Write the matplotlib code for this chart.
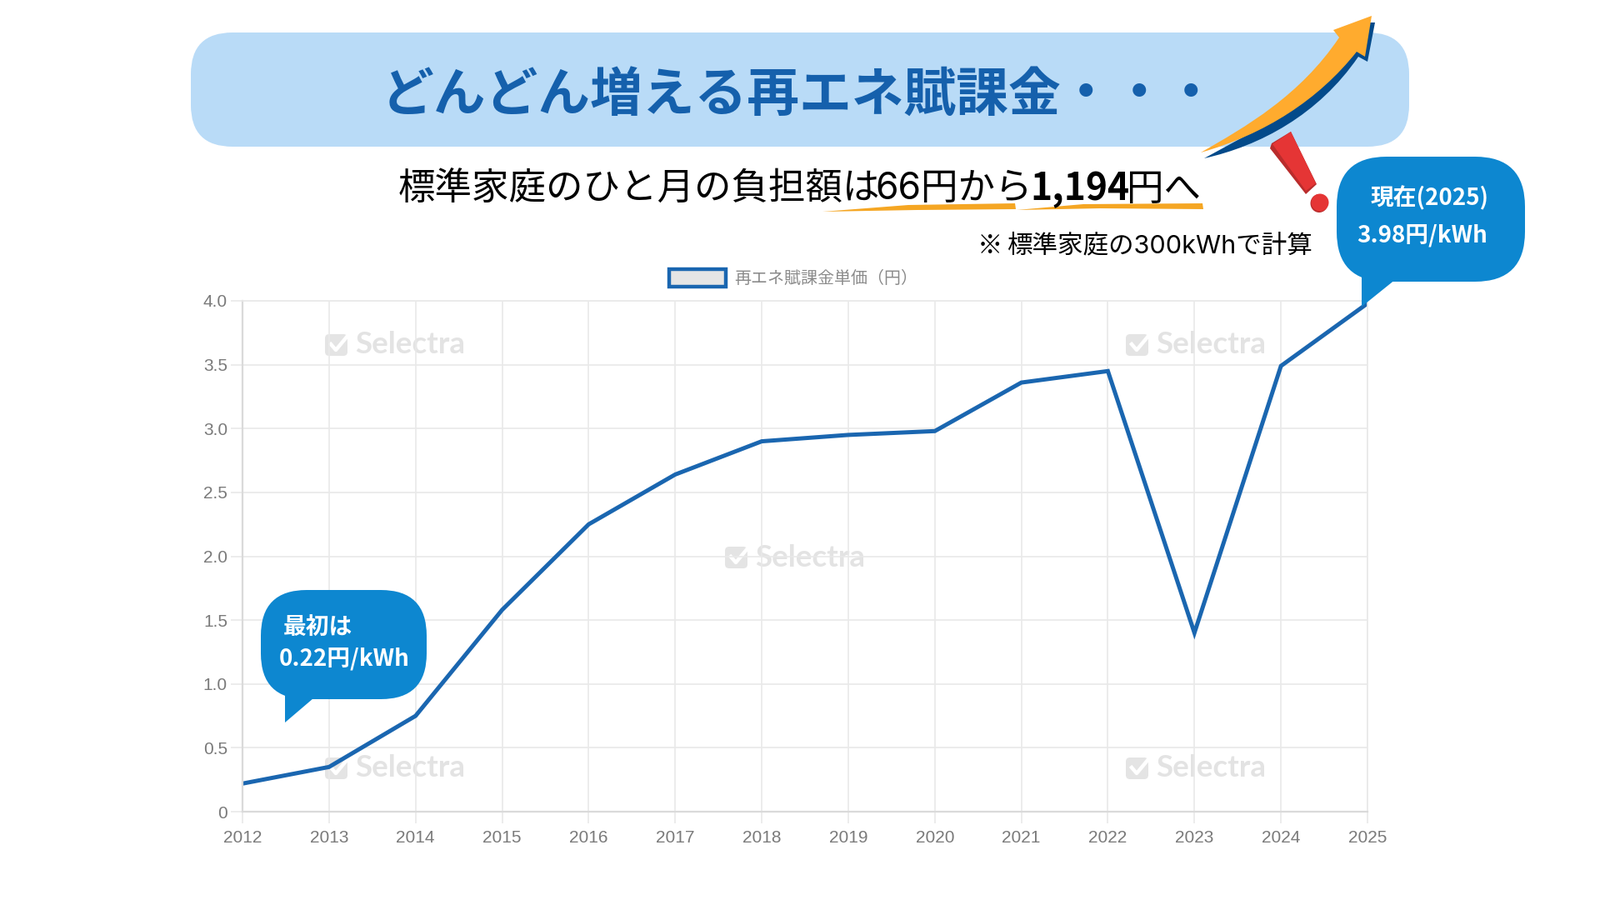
import matplotlib
matplotlib.use("Agg")
import matplotlib.pyplot as plt
from matplotlib.patches import FancyBboxPatch, Polygon, PathPatch, Ellipse, Patch
from matplotlib.path import Path

years = [2012, 2013, 2014, 2015, 2016, 2017, 2018, 2019, 2020, 2021, 2022, 2023, 2024, 2025]
levy = [0.22, 0.35, 0.75, 1.58, 2.25, 2.64, 2.90, 2.95, 2.98, 3.36, 3.45, 1.40, 3.49, 3.98]
y_ticks = [0, 0.5, 1.0, 1.5, 2.0, 2.5, 3.0, 3.5, 4.0]
y_labels = ["0", "0.5", "1.0", "1.5", "2.0", "2.5", "3.0", "3.5", "4.0"]
series_name = "再エネ賦課金単価（円）"
title = "どんどん増える再エネ賦課金"
note = "標準家庭の300kWhで計算"

W, H = 1920, 1080
JP = "Noto Sans CJK JP"
BLUE = "#1A66B0"
BUBBLE = "#0D87D0"
GRID = "#E9E9E9"
AXIS = "#DADADA"

fig = plt.figure(figsize=(W / 100, H / 100), dpi=100, facecolor="white")


def overlay(z):
    a = fig.add_axes([0, 0, 1, 1], zorder=z)
    a.set_xlim(0, W)
    a.set_ylim(H, 0)
    a.axis("off")
    a.patch.set_alpha(0)
    return a


under = overlay(0)
top = overlay(2)

# --- watermarks
for wx, wy in [(390, 414), (1351, 414), (870, 669), (390, 922), (1351, 922)]:
    under.add_patch(FancyBboxPatch((wx, wy - 13), 27, 26,
                                   boxstyle="round,pad=0,rounding_size=5",
                                   fc="#E4E4E4", ec="none"))
    under.plot([wx + 7, wx + 13, wx + 28], [wy - 1, wy + 6, wy - 12], color="white", lw=3.2)
    under.text(wx + 36, wy, "Selectra", family="Lato", weight="bold", fontsize=26.5,
               color="#E3E3E3", ha="left", va="center")

# --- chart
left, right, ytop, ybot = 291, 1641, 361, 974
ax = fig.add_axes([left / W, 1 - ybot / H, (right - left) / W, (ybot - ytop) / H], zorder=1)
ax.patch.set_alpha(0)
ax.set_xlim(years[0], years[-1])
ax.set_ylim(0, 4)
ax.set_xticks(years)
ax.set_xticklabels([str(v) for v in years])
ax.set_yticks(y_ticks)
ax.set_yticklabels(y_labels)
ax.grid(True, color=GRID, lw=1.2)
ax.set_axisbelow(True)
ax.tick_params(axis="both", length=10, width=1.2, color=GRID, labelcolor="#7A7A7A")
ax.tick_params(axis="x", pad=6)
ax.tick_params(axis="y", pad=3)
for lab in ax.get_xticklabels() + ax.get_yticklabels():
    lab.set_family("Liberation Sans")
    lab.set_fontsize(15)
for s in ["top", "right"]:
    ax.spines[s].set_color(GRID)
    ax.spines[s].set_linewidth(1.2)
for s in ["left", "bottom"]:
    ax.spines[s].set_color(AXIS)
    ax.spines[s].set_linewidth(1.6)
ax.plot(years, levy, color=BLUE, lw=3.6, solid_joinstyle="miter", label=series_name)
ax.legend(handles=[Patch(fc="#E5E5E5", ec=BLUE, lw=3.2, label=series_name)],
          loc="center", bbox_to_anchor=(952 / W, 1 - 334 / H),
          bbox_transform=fig.transFigure, frameon=False, handlelength=3.4, handleheight=1.2,
          handletextpad=0.55, borderaxespad=0,
          prop={"family": JP, "size": 14.4}, labelcolor="#8A8A8A")

# --- banner
top.add_patch(FancyBboxPatch((229, 39), 1462, 137, boxstyle="round,pad=0,rounding_size=50",
                             fc="#B9DBF7", ec="none"))
top.text(458, 115, title, family=JP, weight="bold", fontsize=45.2, color="#1560AC",
         ha="left", va="center")
for dx in (1303, 1367, 1429):
    top.text(dx, 113, "・", family=JP, weight="bold", fontsize=45, color="#1560AC",
             ha="center", va="center")

# --- arrow
dark = Path([(1445, 190), (1512, 175), (1582, 138), (1630, 68), (1641, 74), (1650, 27),
             (1643, 27), (1620, 60), (1500, 160), (1445, 190)],
            [Path.MOVETO, Path.CURVE4, Path.CURVE4, Path.CURVE4, Path.LINETO, Path.LINETO,
             Path.LINETO, Path.LINETO, Path.LINETO, Path.CLOSEPOLY])
top.add_patch(PathPatch(dark, fc="#034A8A", ec="none"))
orange = Path([(1441, 183), (1495, 152), (1560, 115), (1607, 45), (1600, 36), (1646, 19),
               (1638, 68), (1628, 62), (1582, 120), (1518, 161), (1441, 183), (1441, 183)],
              [Path.MOVETO, Path.CURVE4, Path.CURVE4, Path.CURVE4, Path.LINETO, Path.LINETO,
               Path.LINETO, Path.LINETO, Path.CURVE4, Path.CURVE4, Path.CURVE4, Path.CLOSEPOLY])
top.add_patch(PathPatch(orange, fc="#FFAB2E", ec="none"))

# --- exclamation mark
top.add_patch(Polygon([(1549, 158), (1580, 221), (1567, 233), (1524, 178), (1526, 172)],
                      fc="#B92C2C", ec="none"))
top.add_patch(Polygon([(1549, 158), (1579, 220), (1567, 229), (1527, 173)], fc="#E53535", ec="none"))
top.add_patch(Ellipse((1583, 244), 21, 22, fc="#B92C2C", ec="none"))
top.add_patch(Ellipse((1584, 243), 21, 21, fc="#E53535", ec="none"))

# --- subtitle
for sx, txt, wt, fam in [(478, "標準家庭のひと月の負担額は", "normal", [JP]),
                         (1050, "66円から", "normal", ["Inter", JP]),
                         (1236, "1,194", "bold", [JP]),
                         (1352, "円へ", "normal", [JP])]:
    top.text(sx, 227, txt, family=fam, weight=wt, fontsize=32, color="black",
             ha="left", va="center")
top.add_patch(Polygon([(987, 254), (1090, 246), (1218, 244), (1219, 251), (1100, 252)],
                      fc="#F5A623", ec="none"))
top.add_patch(Polygon([(1220, 252), (1300, 245), (1443, 244), (1444, 251), (1320, 250)],
                      fc="#F5A623", ec="none"))
top.text(1173, 295, "※", family=JP, fontsize=22, color="black", ha="left", va="center")
top.text(1208, 295, note, family=["Inter", JP], fontsize=22, color="black", ha="left", va="center")

# --- callouts
top.add_patch(Polygon([(1634, 320), (1634, 368), (1675, 335)], fc=BUBBLE, ec="none"))
top.add_patch(FancyBboxPatch((1604, 188), 226, 150, boxstyle="round,pad=0,rounding_size=60",
                             fc=BUBBLE, ec="none"))
top.text(1645, 238, "現在(2025)", family=JP, weight="bold", fontsize=20, color="white",
         ha="left", va="center")
top.text(1628, 282, "3.98円/kWh", family=JP, weight="bold", fontsize=20, color="white",
         ha="left", va="center")

top.add_patch(Polygon([(342, 820), (342, 867), (376, 838)], fc=BUBBLE, ec="none"))
top.add_patch(FancyBboxPatch((313, 708), 199, 131, boxstyle="round,pad=0,rounding_size=55",
                             fc=BUBBLE, ec="none"))
top.text(340, 754, "最初は", family=JP, weight="bold", fontsize=20, color="white",
         ha="left", va="center")
top.text(335, 790, "0.22円/kWh", family=JP, weight="bold", fontsize=20, color="white",
         ha="left", va="center")

fig.savefig("out.png", dpi=100, facecolor="white")
